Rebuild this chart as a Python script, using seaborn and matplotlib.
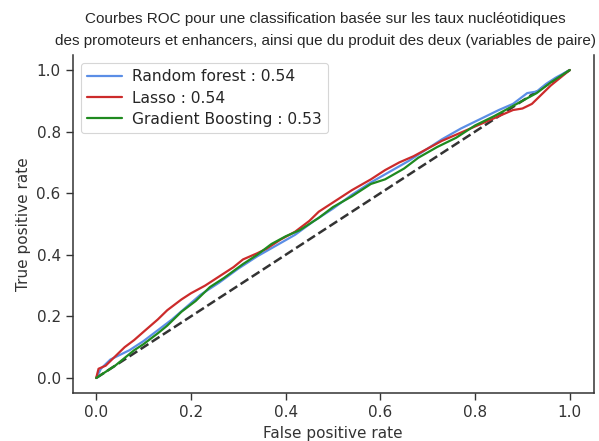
import matplotlib
matplotlib.use("Agg")
import matplotlib.pyplot as plt
import seaborn as sns
import pandas as pd

sns.set_style("ticks")
plt.rcParams["font.family"] = ["DejaVu Sans"]

# --- data ---
rf_fpr = [0, 0.01, 0.03, 0.05, 0.07, 0.10, 0.13, 0.16, 0.19, 0.22, 0.26, 0.30, 0.34, 0.38,
          0.42, 0.46, 0.50, 0.54, 0.58, 0.62, 0.66, 0.70, 0.73, 0.77, 0.81, 0.85, 0.88,
          0.91, 0.93, 0.95, 0.97, 1.0]
rf_tpr = [0, 0.03, 0.06, 0.075, 0.09, 0.12, 0.155, 0.19, 0.23, 0.27, 0.31, 0.355, 0.395, 0.43,
          0.465, 0.51, 0.55, 0.595, 0.635, 0.67, 0.705, 0.745, 0.775, 0.81, 0.84, 0.87, 0.89,
          0.925, 0.93, 0.955, 0.975, 1.0]

lasso_fpr = [0, 0.005, 0.02, 0.04, 0.06, 0.08, 0.10, 0.13, 0.15, 0.18, 0.20, 0.23, 0.26, 0.29,
             0.31, 0.34, 0.36, 0.39, 0.42, 0.45, 0.47, 0.51, 0.54, 0.58, 0.61, 0.64, 0.67,
             0.70, 0.73, 0.76, 0.79, 0.82, 0.85, 0.88, 0.90, 0.92, 0.94, 0.96, 0.98, 1.0]
lasso_tpr = [0, 0.03, 0.04, 0.07, 0.10, 0.123, 0.15, 0.19, 0.22, 0.255, 0.275, 0.30, 0.33, 0.36,
             0.385, 0.405, 0.42, 0.45, 0.475, 0.51, 0.54, 0.58, 0.61, 0.645, 0.675, 0.70, 0.72,
             0.745, 0.77, 0.79, 0.81, 0.83, 0.85, 0.87, 0.875, 0.89, 0.92, 0.95, 0.975, 1.0]

gb_fpr = [0, 0.02, 0.04, 0.06, 0.08, 0.10, 0.13, 0.15, 0.18, 0.21, 0.24, 0.27, 0.31, 0.34,
          0.37, 0.40, 0.43, 0.47, 0.50, 0.54, 0.58, 0.61, 0.65, 0.68, 0.72, 0.76, 0.80,
          0.84, 0.87, 0.90, 0.93, 0.96, 0.98, 1.0]
gb_tpr = [0, 0.02, 0.04, 0.065, 0.09, 0.11, 0.145, 0.17, 0.215, 0.25, 0.295, 0.325, 0.37, 0.40,
          0.435, 0.46, 0.48, 0.52, 0.555, 0.59, 0.63, 0.645, 0.68, 0.715, 0.75, 0.78, 0.82,
          0.85, 0.875, 0.90, 0.925, 0.96, 0.98, 1.0]

labels = ["Random forest : 0.54", "Lasso : 0.54", "Gradient Boosting : 0.53"]
colors = ["#5b8ee6", "#cc2b2b", "#1f8a1f"]
diag = [0, 1]

title = ("Courbes ROC pour une classification basée sur les taux nucléotidiques\n"
         "des promoteurs et enhancers, ainsi que du produit des deux (variables de paire)")

# --- figure ---
W, H = 599, 441
fig = plt.figure(figsize=(W / 100, H / 100), dpi=100)
ax_left, ax_right = 72.5, 593.5
ax_top, ax_bottom = 54.6, 393.4
ax = fig.add_axes([ax_left / W, 1 - ax_bottom / H, (ax_right - ax_left) / W,
                   (ax_bottom - ax_top) / H])

sns.lineplot(x=diag, y=diag, ax=ax, color="#333333", linestyle="--", linewidth=1.8)
for fpr, tpr, lab, col in [(rf_fpr, rf_tpr, labels[0], colors[0]),
                           (lasso_fpr, lasso_tpr, labels[1], colors[1]),
                           (gb_fpr, gb_tpr, labels[2], colors[2])]:
    df = pd.DataFrame({"fpr": fpr, "tpr": tpr})
    sns.lineplot(data=df, x="fpr", y="tpr", ax=ax, color=col, linewidth=1.6,
                 sort=False, estimator=None, label=lab)

ax.set_xlim(-0.05, 1.05)
ax.set_ylim(-0.05, 1.05)
ax.set_xticks([0, 0.2, 0.4, 0.6, 0.8, 1.0])
ax.set_yticks([0, 0.2, 0.4, 0.6, 0.8, 1.0])
ax.set_xticklabels(["0.0", "0.2", "0.4", "0.6", "0.8", "1.0"])
ax.set_yticklabels(["0.0", "0.2", "0.4", "0.6", "0.8", "1.0"])
ax.tick_params(labelsize=11, colors="#333333", length=5, width=1)
ax.set_xlabel("False positive rate", fontsize=11, color="#333333")
ax.set_ylabel("True positive rate", fontsize=11, color="#333333")
ax.spines["top"].set_visible(False)
for s in ["left", "bottom", "right"]:
    ax.spines[s].set_color("#333333")
    ax.spines[s].set_linewidth(1.1)

leg = ax.legend(loc="upper left", fontsize=11.2, frameon=True, handlelength=2.2,
                borderaxespad=0.55, labelspacing=0.4, handletextpad=0.7)
leg.get_frame().set_edgecolor("#cccccc")
leg.get_frame().set_linewidth(0.8)

fig.text(325 / W, 1 - 12 / H, title, ha="center", va="top", fontsize=11,
         family=["Liberation Sans"], linespacing=1.75)

fig.savefig("out.png", dpi=100, facecolor="white")
